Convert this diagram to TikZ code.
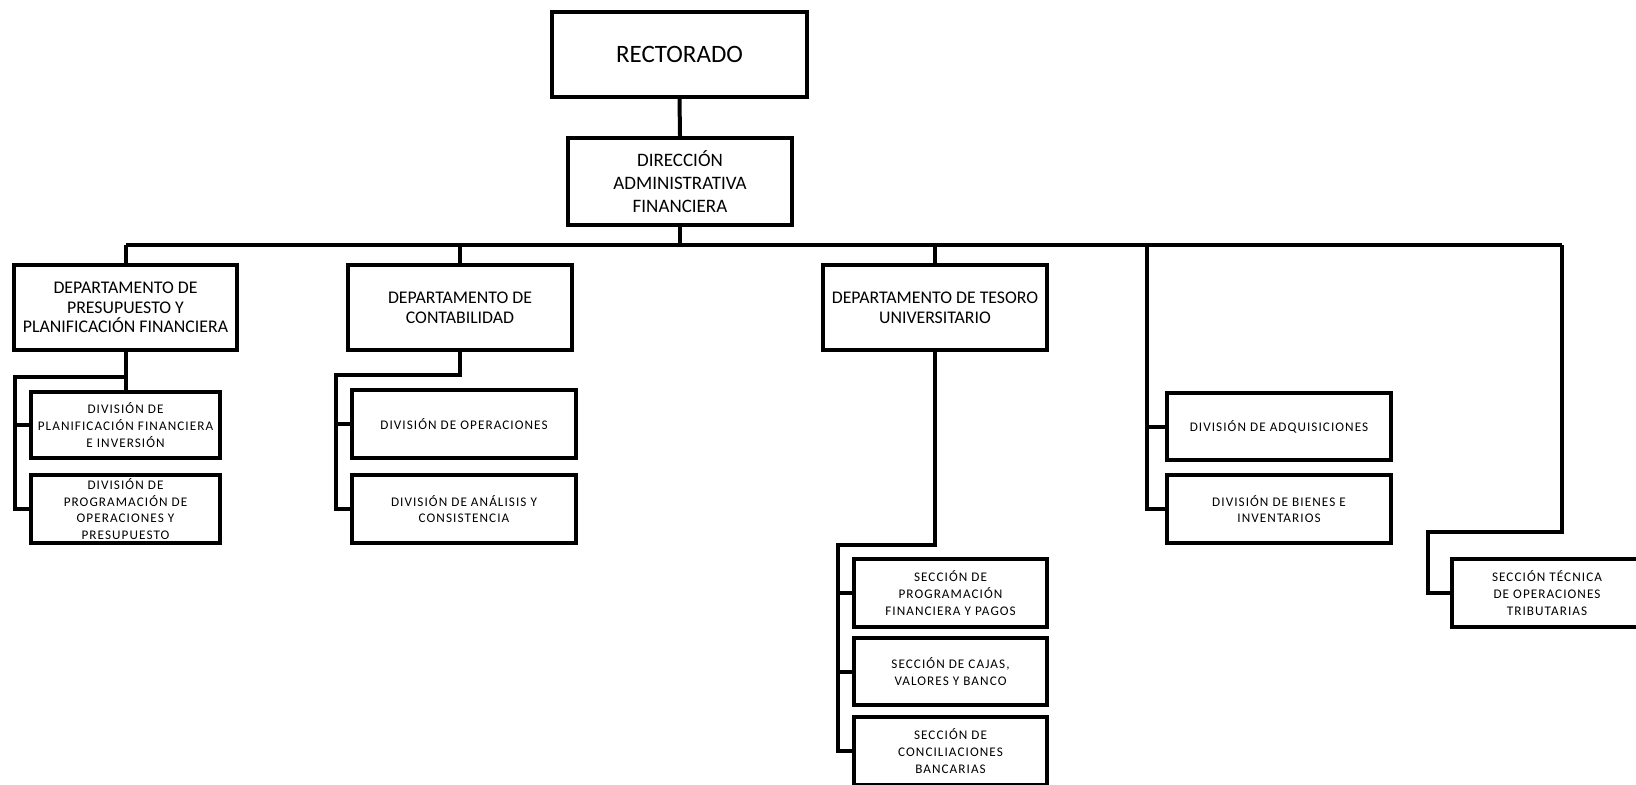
\documentclass[tikz,border=0pt]{standalone}
\usepackage{fontspec}
\setmainfont{Carlito}
\newfontfamily\divfamily[LetterSpace=8]{Carlito}
\begin{document}
\begin{tikzpicture}[x=0.5pt,y=-0.5pt,
  line width=2pt,
  box/.style={draw, line width=2pt, align=center, inner sep=0pt, fill=white},
  topfont/.style={font=\fontsize{12.5}{14}\selectfont},
  dirfont/.style={font=\fontsize{9.5}{11.5}\selectfont},
  depfont/.style={font=\fontsize{8.9}{9.8}\selectfont},
  divfont/.style={font=\divfamily\fontsize{6.6}{8.3}\selectfont},
  conn/.style={draw, line width=2pt}
]
\useasboundingbox (0,0) rectangle (1636,784);

% top
\node[box, topfont, minimum width=127.5pt, minimum height=42.5pt] (rect) at (679.5,54.5) {RECTORADO};
\node[box, dirfont, minimum width=112pt, minimum height=43.5pt] (dir) at (680,181.5) {DIRECCIÓN\\ADMINISTRATIVA\\FINANCIERA};

% departments
\node[box, depfont, minimum width=111.5pt, minimum height=42.5pt] (dep1) at (125.5,307.5) {DEPARTAMENTO DE\\PRESUPUESTO Y\\PLANIFICACIÓN FINANCIERA};
\node[box, depfont, minimum width=112pt, minimum height=42.5pt] (dep2) at (460,307.5) {DEPARTAMENTO DE\\CONTABILIDAD};
\node[box, depfont, minimum width=112pt, minimum height=42.5pt] (dep3) at (935,307.5) {DEPARTAMENTO DE TESORO\\UNIVERSITARIO};

% divisions
\node[box, divfont, minimum width=94.5pt, minimum height=33pt] (div1a) at (125.5,425) {DIVISIÓN DE\\PLANIFICACIÓN FINANCIERA\\E INVERSIÓN};
\node[box, divfont, minimum width=94.5pt, minimum height=34pt] (div1b) at (125.5,509) {DIVISIÓN DE\\PROGRAMACIÓN DE\\OPERACIONES Y\\PRESUPUESTO};
\node[box, divfont, minimum width=112pt, minimum height=34pt] (div2a) at (464,424) {DIVISIÓN DE OPERACIONES};
\node[box, divfont, minimum width=112pt, minimum height=34pt] (div2b) at (464,509) {DIVISIÓN DE ANÁLISIS Y\\CONSISTENCIA};
\node[box, divfont, minimum width=112pt, minimum height=33.5pt] (divA) at (1279,426.5) {DIVISIÓN DE ADQUISICIONES};
\node[box, divfont, minimum width=112pt, minimum height=34pt] (divB) at (1279,509) {DIVISIÓN DE BIENES E\\INVENTARIOS};

% sections
\node[box, divfont, minimum width=96.5pt, minimum height=34pt] (sec1) at (950.5,593) {SECCIÓN DE\\PROGRAMACIÓN\\FINANCIERA Y PAGOS};
\node[box, divfont, minimum width=96.5pt, minimum height=33.5pt] (sec2) at (950.5,671.5) {SECCIÓN DE CAJAS,\\VALORES Y BANCO};
\node[box, divfont, minimum width=96.5pt, minimum height=34pt] (sec3) at (950.5,751) {SECCIÓN DE\\CONCILIACIONES\\BANCARIAS};
\node[box, divfont, minimum width=95pt, minimum height=34pt] (secT) at (1547,593) {SECCIÓN TÉCNICA\\DE OPERACIONES\\TRIBUTARIAS};

% connectors
\coordinate (busL) at (126,245);
\coordinate (busR) at (1562,245);
\coordinate (busA) at (1147,245);
\draw[conn] (rect.south) -- (dir.north);
\draw[conn] (busL) -- (busR);
\draw[conn] (dir.south) -- (dir.south |- busL);
\draw[conn] (dep1.north) -- (dep1.north |- busL);
\draw[conn] (dep2.north) -- (dep2.north |- busL);
\draw[conn] (dep3.north) -- (dep3.north |- busL);

% dep1 children
\coordinate (j1) at (15,377);
\draw[conn] (dep1.south) -- (div1a.north);
\draw[conn] (dep1.south |- j1) -- (j1) |- (div1b.west);
\draw[conn] (j1 |- div1a.west) -- (div1a.west);

% dep2 children
\coordinate (j2) at (336,375);
\draw[conn] (dep2.south) |- (j2) |- (div2b.west);
\draw[conn] (j2 |- div2a.west) -- (div2a.west);

% dep3 children
\coordinate (j3) at (838,545);
\draw[conn] (dep3.south) |- (j3) |- (sec3.west);
\draw[conn] (j3 |- sec1.west) -- (sec1.west);
\draw[conn] (j3 |- sec2.west) -- (sec2.west);

% divisions under bus
\draw[conn] (busA) |- (divB.west);
\draw[conn] (busA |- divA.west) -- (divA.west);

% seccion tecnica
\coordinate (jT) at (1428,532);
\draw[conn] (busR) |- (jT) |- (secT.west);
\end{tikzpicture}
\end{document}
